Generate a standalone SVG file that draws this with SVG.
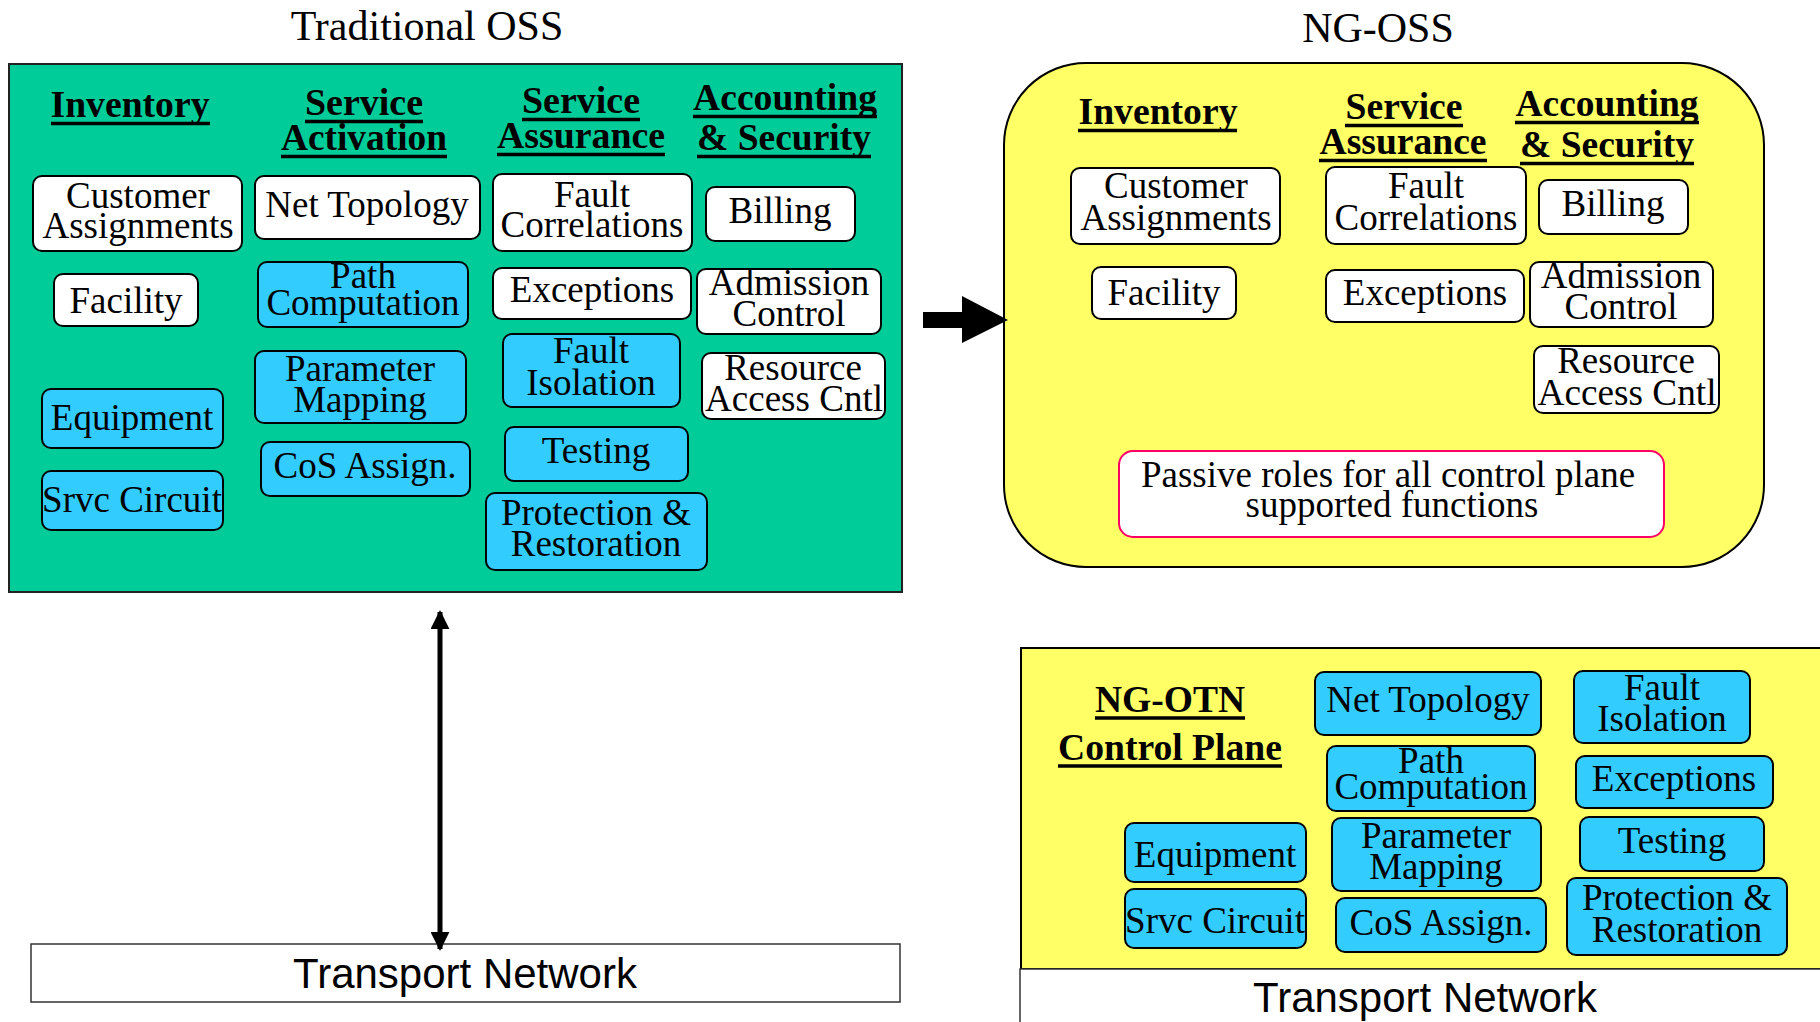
<svg xmlns="http://www.w3.org/2000/svg" width="1820" height="1022" viewBox="0 0 1820 1022">
  <style>
    .w { fill: #ffffff; stroke: #000000; stroke-width: 2; }
    .b { fill: #33ccff; stroke: #000000; stroke-width: 2; }
    .t { font-family: "Liberation Serif", "Times New Roman", serif; font-size: 37px; text-anchor: middle; fill: #000000; }
    .h { font-family: "Liberation Serif", "Times New Roman", serif; font-size: 38px; font-weight: bold; text-anchor: middle; fill: #000000; }
    .ttl { font-family: "Liberation Serif", "Times New Roman", serif; font-size: 42px; text-anchor: middle; fill: #000000; }
    .tn { font-family: "Liberation Sans", Arial, sans-serif; font-size: 42px; text-anchor: middle; fill: #000000; }
    .ul { stroke: #000000; stroke-width: 3.5; }
    .link { stroke: #000000; stroke-width: 5; fill: none; }
  </style>
  <defs>
    <marker id="head" viewBox="0 0 10 10" refX="9" refY="5" markerWidth="3.8" markerHeight="3.8" markerUnits="strokeWidth" orient="auto-start-reverse">
      <path d="M0,0 L10,5 L0,10 Z" fill="#000000"/>
    </marker>
  </defs>

  <rect width="1820" height="1022" fill="#ffffff"/>

  <!-- Titles -->
  <text class="ttl" x="427" y="40">Traditional OSS</text>
  <text class="ttl" x="1378" y="42">NG-OSS</text>

  <!-- Traditional OSS panel -->
  <g id="traditional-oss">
    <rect x="9" y="64" width="893" height="528" fill="#00cc99" stroke="#222222" stroke-width="2"/>
    <g id="trad-headers">
      <text class="h" x="130" y="117" textLength="159" lengthAdjust="spacingAndGlyphs">Inventory</text>
      <line class="ul" x1="51" y1="123.5" x2="210" y2="123.5"/>
      <text class="h" x="364" y="115" textLength="118" lengthAdjust="spacingAndGlyphs">Service</text>
      <line class="ul" x1="305" y1="121.5" x2="423" y2="121.5"/>
      <text class="h" x="364" y="150" textLength="166" lengthAdjust="spacingAndGlyphs">Activation</text>
      <line class="ul" x1="281" y1="156.5" x2="447" y2="156.5"/>
      <text class="h" x="581" y="113" textLength="118" lengthAdjust="spacingAndGlyphs">Service</text>
      <line class="ul" x1="522" y1="119.5" x2="640" y2="119.5"/>
      <text class="h" x="581" y="148" textLength="168" lengthAdjust="spacingAndGlyphs">Assurance</text>
      <line class="ul" x1="497" y1="154.5" x2="665" y2="154.5"/>
      <text class="h" x="785" y="110" textLength="184" lengthAdjust="spacingAndGlyphs">Accounting</text>
      <line class="ul" x1="693" y1="116.5" x2="877" y2="116.5"/>
      <text class="h" x="784" y="150" textLength="174" lengthAdjust="spacingAndGlyphs">&amp; Security</text>
      <line class="ul" x1="697" y1="156.5" x2="871" y2="156.5"/>
    </g>
  </g>

  <g id="t-customer"><rect class="w" x="33" y="176" width="209" height="75" rx="9"/><text class="t" x="138" y="208">Customer</text><text class="t" x="138" y="238">Assignments</text></g>
  <g id="t-nettopo"><rect class="w" x="255" y="176" width="225" height="63" rx="9"/><text class="t" x="367" y="217">Net Topology</text></g>
  <g id="t-faultcorr"><rect class="w" x="493" y="174" width="199" height="77" rx="9"/><text class="t" x="592" y="207">Fault</text><text class="t" x="592" y="237">Correlations</text></g>
  <g id="t-billing"><rect class="w" x="706" y="187" width="149" height="54" rx="9"/><text class="t" x="780" y="223">Billing</text></g>
  <g id="t-facility"><rect class="w" x="54" y="274" width="144" height="52" rx="9"/><text class="t" x="126" y="313">Facility</text></g>
  <g id="t-pathcomp"><rect class="b" x="258" y="262" width="210" height="65" rx="9"/><text class="t" x="363" y="288">Path</text><text class="t" x="363" y="315">Computation</text></g>
  <g id="t-exceptions"><rect class="w" x="493" y="268" width="198" height="51" rx="9"/><text class="t" x="592" y="302">Exceptions</text></g>
  <g id="t-admission"><rect class="w" x="697" y="269" width="184" height="65" rx="9"/><text class="t" x="789" y="295">Admission</text><text class="t" x="789" y="326">Control</text></g>
  <g id="t-faultiso"><rect class="b" x="503" y="334" width="177" height="73" rx="9"/><text class="t" x="591" y="363">Fault</text><text class="t" x="591" y="395">Isolation</text></g>
  <g id="t-resource"><rect class="w" x="702" y="353" width="183" height="66" rx="9"/><text class="t" x="793" y="380">Resource</text><text class="t" x="794" y="411" textLength="178" lengthAdjust="spacingAndGlyphs">Access Cntl</text></g>
  <g id="t-parammap"><rect class="b" x="255" y="351" width="211" height="72" rx="9"/><text class="t" x="360" y="381">Parameter</text><text class="t" x="360" y="412">Mapping</text></g>
  <g id="t-equipment"><rect class="b" x="42" y="389" width="181" height="59" rx="9"/><text class="t" x="132" y="430">Equipment</text></g>
  <g id="t-cos"><rect class="b" x="261" y="442" width="209" height="54" rx="9"/><text class="t" x="365" y="478">CoS Assign.</text></g>
  <g id="t-testing"><rect class="b" x="505" y="427" width="183" height="54" rx="9"/><text class="t" x="596" y="463">Testing</text></g>
  <g id="t-srvc"><rect class="b" x="42" y="471" width="181" height="59" rx="9"/><text class="t" x="132" y="512">Srvc Circuit</text></g>
  <g id="t-protection"><rect class="b" x="486" y="493" width="221" height="77" rx="9"/><text class="t" x="596" y="525">Protection &amp;</text><text class="t" x="596" y="556">Restoration</text></g>

  <!-- Transport network under the traditional OSS -->
  <g id="transport-left">
    <rect x="31" y="944" width="869" height="58" fill="#ffffff" stroke="#333333" stroke-width="1.5"/>
    <text class="tn" x="465" y="988">Transport Network</text>
  </g>

  <!-- NG-OSS panel -->
  <g id="ng-oss">
    <rect x="1004" y="63" width="760" height="504" rx="82" fill="#ffff66" stroke="#000000" stroke-width="2"/>
    <g id="ng-headers">
      <text class="h" x="1158" y="124" textLength="159" lengthAdjust="spacingAndGlyphs">Inventory</text>
      <line class="ul" x1="1078" y1="130.5" x2="1237" y2="130.5"/>
      <text class="h" x="1404" y="119" textLength="117" lengthAdjust="spacingAndGlyphs">Service</text>
      <line class="ul" x1="1345" y1="125.5" x2="1463" y2="125.5"/>
      <text class="h" x="1403" y="154" textLength="167" lengthAdjust="spacingAndGlyphs">Assurance</text>
      <line class="ul" x1="1319" y1="160.5" x2="1487" y2="160.5"/>
      <text class="h" x="1607" y="116" textLength="183" lengthAdjust="spacingAndGlyphs">Accounting</text>
      <line class="ul" x1="1515" y1="122.5" x2="1699" y2="122.5"/>
      <text class="h" x="1607" y="157" textLength="174" lengthAdjust="spacingAndGlyphs">&amp; Security</text>
      <line class="ul" x1="1520" y1="163.5" x2="1694" y2="163.5"/>
    </g>
  </g>

  <g id="n-customer"><rect class="w" x="1071" y="168" width="209" height="76" rx="9"/><text class="t" x="1176" y="198">Customer</text><text class="t" x="1176" y="230">Assignments</text></g>
  <g id="n-faultcorr"><rect class="w" x="1326" y="167" width="200" height="77" rx="9"/><text class="t" x="1426" y="198">Fault</text><text class="t" x="1426" y="230">Correlations</text></g>
  <g id="n-billing"><rect class="w" x="1539" y="180" width="149" height="54" rx="9"/><text class="t" x="1613" y="216">Billing</text></g>
  <g id="n-facility"><rect class="w" x="1092" y="267" width="144" height="52" rx="9"/><text class="t" x="1164" y="305">Facility</text></g>
  <g id="n-exceptions"><rect class="w" x="1326" y="270" width="198" height="52" rx="9"/><text class="t" x="1425" y="305">Exceptions</text></g>
  <g id="n-admission"><rect class="w" x="1530" y="262" width="183" height="65" rx="9"/><text class="t" x="1621" y="288">Admission</text><text class="t" x="1621" y="319">Control</text></g>
  <g id="n-resource"><rect class="w" x="1534" y="346" width="185" height="67" rx="9"/><text class="t" x="1626" y="373">Resource</text><text class="t" x="1627" y="405" textLength="179" lengthAdjust="spacingAndGlyphs">Access Cntl</text></g>
  <g id="n-passive"><rect x="1119" y="451" width="545" height="86" rx="14" fill="#ffffff" stroke="#ff0066" stroke-width="2"/><text class="t" x="1388" y="487">Passive roles for all control plane</text><text class="t" x="1392" y="517">supported functions</text></g>

  <!-- NG-OTN control plane panel -->
  <g id="ng-otn">
    <rect x="1021" y="648" width="820" height="321" fill="#ffff66" stroke="#000000" stroke-width="2"/>
    <text class="h" x="1170" y="712" textLength="150" lengthAdjust="spacingAndGlyphs">NG-OTN</text>
    <line class="ul" x1="1095" y1="718" x2="1245" y2="718"/>
    <text class="h" x="1170" y="760" textLength="224" lengthAdjust="spacingAndGlyphs">Control Plane</text>
    <line class="ul" x1="1058" y1="766" x2="1282" y2="766"/>
  </g>

  <g id="c-nettopo"><rect class="b" x="1315" y="672" width="226" height="63" rx="9"/><text class="t" x="1428" y="712">Net Topology</text></g>
  <g id="c-faultiso"><rect class="b" x="1574" y="671" width="176" height="72" rx="9"/><text class="t" x="1662" y="700">Fault</text><text class="t" x="1662" y="731">Isolation</text></g>
  <g id="c-pathcomp"><rect class="b" x="1327" y="746" width="208" height="65" rx="9"/><text class="t" x="1431" y="773">Path</text><text class="t" x="1431" y="799">Computation</text></g>
  <g id="c-exceptions"><rect class="b" x="1576" y="756" width="197" height="52" rx="9"/><text class="t" x="1674" y="791">Exceptions</text></g>
  <g id="c-equipment"><rect class="b" x="1125" y="823" width="181" height="59" rx="9"/><text class="t" x="1215" y="867">Equipment</text></g>
  <g id="c-parammap"><rect class="b" x="1332" y="818" width="209" height="73" rx="9"/><text class="t" x="1436" y="848">Parameter</text><text class="t" x="1436" y="879">Mapping</text></g>
  <g id="c-testing"><rect class="b" x="1580" y="817" width="184" height="54" rx="9"/><text class="t" x="1672" y="853">Testing</text></g>
  <g id="c-srvc"><rect class="b" x="1125" y="889" width="181" height="59" rx="9"/><text class="t" x="1215" y="933">Srvc Circuit</text></g>
  <g id="c-cos"><rect class="b" x="1336" y="898" width="210" height="54" rx="9"/><text class="t" x="1441" y="935">CoS Assign.</text></g>
  <g id="c-protection"><rect class="b" x="1567" y="878" width="220" height="77" rx="9"/><text class="t" x="1677" y="910">Protection &amp;</text><text class="t" x="1677" y="942">Restoration</text></g>

  <!-- Transport network under the control plane -->
  <g id="transport-right">
    <rect x="1020" y="969" width="820" height="70" fill="#ffffff" stroke="#333333" stroke-width="1.5"/>
    <text class="tn" x="1425" y="1012">Transport Network</text>
  </g>

  <!-- Connectors -->
  <g id="connectors">
    <line class="link" x1="440" y1="612" x2="440" y2="949" marker-start="url(#head)" marker-end="url(#head)"/>
    <polygon points="923,312 962,312 962,296 1008,320 962,343 962,328 923,328" fill="#000000"/>
  </g>
</svg>
